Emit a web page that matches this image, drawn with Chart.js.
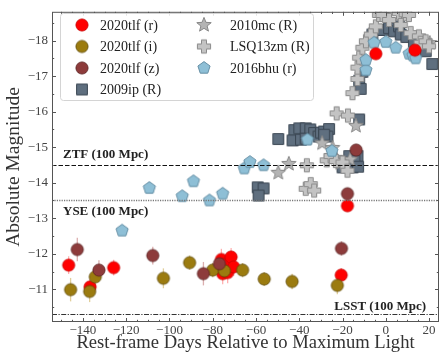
<!DOCTYPE html>
<html>
<head>
<meta charset="utf-8">
<script src="https://cdn.jsdelivr.net/npm/chart.js@4.4.0/dist/chart.umd.min.js"></script>
<style>
  html, body { margin: 0; padding: 0; background: #fff; }
  #wrap { width: 447px; height: 354px; }
</style>
</head>
<body>
<div id="wrap"><canvas id="lc" width="447" height="354"></canvas></div>
<script>
// ---- Light-curve data: rest-frame days from maximum, absolute magnitude ----
const tlfR_days = [-146.6, -136.7, -125.8, -76.0, -75.4, -74.5, -73.1, -71.5, -70.3, -20.6, -17.7, -4.6, 13.5];
const tlfR_mags = [-11.68, -11.07, -11.61, -11.84, -11.44, -11.70, -11.47, -11.91, -11.63, -11.40, -13.35, -17.63, -17.73];
const tlfR_errs = [0.25, 0.22, 0.22, 0.30, 0.30, 0.25, 0.30, 0.25, 0.25, 0.20, 0.08, 0.05, 0.05];

const tlfI_days = [-145.7, -136.9, -134.3, -102.8, -90.7, -80.0, -74.6, -66.2, -56.2, -43.3, -22.4];
const tlfI_mags = [-10.99, -10.94, -11.35, -11.31, -11.75, -11.54, -11.52, -11.54, -11.29, -11.22, -11.11];
const tlfI_errs = [0.33, 0.30, 0.25, 0.28, 0.20, 0.20, 0.22, 0.20, 0.20, 0.22, 0.25];

const tlfZ_days = [-142.6, -132.6, -107.7, -84.3, -76.9, -20.5, -17.7, -13.7];
const tlfZ_mags = [-12.12, -11.54, -11.95, -11.44, -11.72, -12.15, -13.69, -14.92];
const tlfZ_errs = [0.33, 0.28, 0.25, 0.33, 0.25, 0.20, 0.10, 0.10];

const sn2009ip_days = [-59.2, -56.5, -58.8, -49.7, -42.3, -40.0, -37.0, -34.9, -43.1, -39.2, -37.0, -33.1, -31.1,
  -30.0, -28.5, -26.2, -27.0, -28.5, -12.3, -16.9, -18.5, -13.8, -13.1, -15.4, -20.0, -14.5, -12.8,
  -12.3, -11.6, -10.8, -6.2, -3.1, -1.5, 1.5, 3.8, 6.1, 6.9, 9.5, 13.0, 18.5, 21.5];
const sn2009ip_mags = [-13.87, -13.84, -13.64, -15.23, -15.48, -15.53, -15.53, -15.50, -15.19, -15.21, -15.24, -15.40, -15.30,
  -15.41, -15.44, -15.51, -15.30, -15.35, -15.78, -14.75, -14.57, -14.52, -14.75, -14.43, -14.43, -14.62, -14.45,
  -16.87, -16.64, -17.12, -18.17, -18.30, -18.30, -18.35, -18.26, -18.40, -18.17, -18.10, -17.95, -17.70, -17.34];

const sn2010mc_days = [-49.7, -44.8, -29.4, -24.6, -23.1, -21.0, -16.5, -13.8, 20.3];
const sn2010mc_mags = [-14.28, -14.53, -15.11, -14.98, -14.70, -14.55, -14.65, -15.60, -17.93];

const lsq13zm_days = [-37.0, -34.7, -33.1, -36.5, -27.3, -25.5, -23.1, -20.0, -17.7, -22.7, -17.5, -15.4, -13.1, -13.1,
  -12.3, -10.8, -9.2, -6.9, -4.6, -3.1, -1.5, 1.5, 6.1, 9.2, 10.7, 6.9, 11.5, 15.3, 16.1, 18.4, 20.0];
const lsq13zm_mags = [-13.83, -13.96, -13.78, -14.49, -14.63, -14.75, -14.61, -14.57, -14.34, -15.95, -15.89, -16.52, -16.92, -17.24,
  -17.52, -17.80, -17.98, -18.17, -18.40, -18.72, -18.72, -18.58, -18.77, -18.74, -18.72, -18.44, -18.21, -18.12, -17.94, -17.98, -17.84];

const sn2016bhu_days = [-121.9, -109.3, -94.1, -88.9, -81.5, -75.4, -65.4, -62.8, -56.5, -36.2, -24.9,
  -9.2, -9.2, -5.4, 0.0, 4.6, 10.8, 12.5, 13.8];
const sn2016bhu_mags = [-12.65, -13.85, -13.62, -14.04, -13.50, -13.69, -14.40, -14.58, -14.49, -15.21, -14.89,
  -17.17, -17.45, -17.94, -17.96, -17.80, -17.63, -17.58, -17.50];

// survey depth limits at 100 Mpc
const limitNames = ['ZTF (100 Mpc)', 'YSE (100 Mpc)', 'LSST (100 Mpc)'];
const limitMags = [-14.5, -13.5, -10.3];

const xTicks = [-140, -120, -100, -80, -60, -40, -20, 0, 20];
const yTicks = [-18, -17, -16, -15, -14, -13, -12, -11];

// ---- marker sprites ----
const SERIF = '"Liberation Serif", "DejaVu Serif", serif';

function sprite(size, pathFn, fill, stroke, lw) {
  const c = document.createElement('canvas');
  c.width = size; c.height = size;
  const g = c.getContext('2d');
  g.translate(size / 2, size / 2);
  g.beginPath(); pathFn(g); g.closePath();
  g.fillStyle = fill; g.fill();
  if (lw > 0) { g.lineWidth = lw; g.strokeStyle = stroke; g.stroke(); }
  return c;
}
const circle = r => g => g.arc(0, 0, r, 0, Math.PI * 2);
const square = h => g => g.rect(-h, -h, 2 * h, 2 * h);
const star = (R, r) => g => {
  for (let k = 0; k < 10; k++) {
    const a = -Math.PI / 2 + k * Math.PI / 5, d = k % 2 ? r : R;
    k ? g.lineTo(d * Math.cos(a), d * Math.sin(a)) : g.moveTo(d * Math.cos(a), d * Math.sin(a));
  }
};
const pentagon = R => g => {
  for (let k = 0; k < 5; k++) {
    const a = -Math.PI / 2 + k * 2 * Math.PI / 5;
    k ? g.lineTo(R * Math.cos(a), R * Math.sin(a)) : g.moveTo(R * Math.cos(a), R * Math.sin(a));
  }
};
const plus = (L, t) => g => {
  g.moveTo(-t, -L); g.lineTo(t, -L); g.lineTo(t, -t); g.lineTo(L, -t); g.lineTo(L, t); g.lineTo(t, t);
  g.lineTo(t, L); g.lineTo(-t, L); g.lineTo(-t, t); g.lineTo(-L, t); g.lineTo(-L, -t); g.lineTo(-t, -t);
};

const mk = {
  r: sprite(16, circle(6.1), '#ff0000', '#c80000', 0.8),
  i: sprite(16, circle(6.1), '#9b7b0f', '#5e4a08', 0.8),
  z: sprite(16, circle(6.1), '#8d3b3b', '#5a2222', 0.8),
  ip: sprite(16, square(5.4), '#5f6f7f', '#3a4652', 1),
  mc: sprite(18, star(7.6, 3.3), '#b4b4b4', '#878787', 1),
  zm: sprite(18, plus(6.6, 2.5), '#c3c3c3', '#8a8a8a', 1),
  bhu: sprite(16, pentagon(6.4), '#8ebfd6', '#668fa5', 1)
};

const pts = (d, m) => d.map((v, k) => ({ x: v, y: m[k] }));
const series = [
  { label: '2020tlf (r)', data: pts(tlfR_days, tlfR_mags), style: mk.r, order: 2, errs: tlfR_errs, ecol: 'rgba(255,80,80,0.45)' },
  { label: '2020tlf (i)', data: pts(tlfI_days, tlfI_mags), style: mk.i, order: 1, errs: tlfI_errs, ecol: 'rgba(205,175,90,0.6)' },
  { label: '2020tlf (z)', data: pts(tlfZ_days, tlfZ_mags), style: mk.z, order: 0, errs: tlfZ_errs, ecol: 'rgba(190,110,110,0.55)' },
  { label: '2009ip (R)', data: pts(sn2009ip_days, sn2009ip_mags), style: mk.ip, order: 6 },
  { label: '2010mc (R)', data: pts(sn2010mc_days, sn2010mc_mags), style: mk.mc, order: 5 },
  { label: 'LSQ13zm (R)', data: pts(lsq13zm_days, lsq13zm_mags), style: mk.zm, order: 4 },
  { label: '2016bhu (r)', data: pts(sn2016bhu_days, sn2016bhu_mags), style: mk.bhu, order: 3 }
];

const minus = v => (v < 0 ? '\u2212' + Math.abs(v) : String(v));

// error bars under the 2020tlf markers
const errorBars = {
  id: 'errorBars',
  beforeDatasetsDraw(chart) {
    const { ctx, scales: { x, y } } = chart;
    ctx.save();
    ctx.lineWidth = 1.3;
    chart.data.datasets.forEach(ds => {
      if (!ds.errs) return;
      ctx.strokeStyle = ds.ecol;
      ds.data.forEach((p, k) => {
        const px = x.getPixelForValue(p.x);
        ctx.beginPath();
        ctx.moveTo(px, y.getPixelForValue(p.y - ds.errs[k]));
        ctx.lineTo(px, y.getPixelForValue(p.y + ds.errs[k]));
        ctx.stroke();
      });
    });
    ctx.restore();
  }
};

// survey limit lines, frame with inward ticks, legend
const overlay = {
  id: 'overlay',
  afterDatasetsDraw(chart) {
    const { ctx, chartArea: a, scales: { x, y } } = chart;
    ctx.save();
    // limit lines
    const dashes = [[4.5, 2], [1.2, 1.2], [5, 1.5, 1.2, 1.5]];
    const cols = ['#111', '#777', '#333'];
    limitMags.forEach((m, k) => {
      const py = Math.round(y.getPixelForValue(m)) + 0.5;
      ctx.setLineDash(dashes[k]);
      ctx.strokeStyle = cols[k];
      ctx.lineWidth = k === 1 ? 1.4 : 1.1;
      ctx.beginPath(); ctx.moveTo(a.left, py); ctx.lineTo(a.right, py); ctx.stroke();
    });
    ctx.setLineDash([]);
    ctx.fillStyle = '#222';
    ctx.font = 'bold 13px ' + SERIF;
    ctx.textBaseline = 'middle';
    ctx.textAlign = 'left';
    ctx.fillText(limitNames[0], a.left + 11, y.getPixelForValue(limitMags[0]) - 10);
    ctx.fillText(limitNames[1], a.left + 11, y.getPixelForValue(limitMags[1]) + 11);
    ctx.textAlign = 'right';
    ctx.fillText(limitNames[2], a.right - 13, y.getPixelForValue(limitMags[2]) - 8);

    // frame
    ctx.strokeStyle = '#555';
    ctx.lineWidth = 1;
    ctx.strokeRect(a.left + 0.5, a.top + 0.5, a.right - a.left - 1, a.bottom - a.top - 1);
    // inward ticks on all four sides
    ctx.beginPath();
    for (let d = -150; d <= 20; d += 5) {
      const px = Math.round(x.getPixelForValue(d)) + 0.5;
      const len = d % 20 === 0 ? 4 : 2.2;
      ctx.moveTo(px, a.bottom); ctx.lineTo(px, a.bottom - len);
      ctx.moveTo(px, a.top); ctx.lineTo(px, a.top + len);
    }
    for (let m = -18.5; m <= -10.5; m += 0.5) {
      const py = Math.round(y.getPixelForValue(m)) + 0.5;
      const len = Number.isInteger(m) ? 4 : 2.2;
      ctx.moveTo(a.left, py); ctx.lineTo(a.left + len, py);
      ctx.moveTo(a.right, py); ctx.lineTo(a.right - len, py);
    }
    ctx.stroke();

    // legend box
    const bx = 60.5, by = 13.5, bw = 253, bh = 87, rr = 3;
    ctx.beginPath();
    ctx.moveTo(bx + rr, by); ctx.lineTo(bx + bw - rr, by); ctx.arcTo(bx + bw, by, bx + bw, by + rr, rr);
    ctx.lineTo(bx + bw, by + bh - rr); ctx.arcTo(bx + bw, by + bh, bx + bw - rr, by + bh, rr);
    ctx.lineTo(bx + rr, by + bh); ctx.arcTo(bx, by + bh, bx, by + bh - rr, rr);
    ctx.lineTo(bx, by + rr); ctx.arcTo(bx, by, bx + rr, by, rr);
    ctx.closePath();
    ctx.fillStyle = 'rgba(255,255,255,0.85)'; ctx.fill();
    ctx.strokeStyle = '#d4d4d4'; ctx.stroke();
    const rows = [25, 46.5, 68, 89.5];
    ctx.font = '14px ' + SERIF;
    ctx.fillStyle = '#222';
    ctx.textAlign = 'left';
    ctx.textBaseline = 'middle';
    chart.data.datasets.forEach((ds, k) => {
      const col = k < 4 ? 0 : 1, row = k < 4 ? k : k - 4;
      const mx = col ? 204 : 82, tx = col ? 230 : 100, yy = rows[row];
      const s = ds.pointStyle;
      ctx.drawImage(s, mx - s.width / 2, yy - s.height / 2);
      ctx.fillText(ds.label, tx, yy + 1);
    });
    ctx.restore();
  }
};

new Chart(document.getElementById('lc'), {
  type: 'scatter',
  data: {
    datasets: series.map(s => ({
      label: s.label, data: s.data, order: s.order,
      pointStyle: s.style, pointRadius: 7, pointHoverRadius: 7,
      errs: s.errs, ecol: s.ecol
    }))
  },
  options: {
    responsive: false,
    animation: false,
    events: [],
    layout: { padding: { top: 7, right: 7, left: 0, bottom: 0 } },
    plugins: { legend: { display: false }, tooltip: { enabled: false } },
    scales: {
      x: {
        type: 'linear', min: -154.3, max: 24.6,
        afterFit: s => { s.height = 32; },
        afterBuildTicks: s => { s.ticks = xTicks.map(v => ({ value: v })); },
        grid: { display: false, drawTicks: false },
        border: { display: false },
        ticks: { callback: minus, font: { family: SERIF, size: 13 }, color: '#444', padding: 1, maxRotation: 0 },
        title: { display: true, text: 'Rest-frame Days Relative to Maximum Light',
          font: { family: SERIF, size: 18.6, lineHeight: 1.16 }, color: '#333', padding: { top: 0, bottom: 0 } }
      },
      y: {
        type: 'linear', reverse: true, min: -18.81, max: -10.08,
        afterFit: s => { s.width = 52; },
        afterBuildTicks: s => { s.ticks = yTicks.map(v => ({ value: v })); },
        grid: { display: false, drawTicks: false },
        border: { display: false },
        ticks: { callback: minus, font: { family: SERIF, size: 13 }, color: '#444', padding: 4 },
        title: { display: true, text: 'Absolute Magnitude',
          font: { family: SERIF, size: 19.5, lineHeight: 1.15 }, color: '#333', padding: { top: 3, bottom: 0 } }
      }
    }
  },
  plugins: [errorBars, overlay]
});
</script>
</body>
</html>
